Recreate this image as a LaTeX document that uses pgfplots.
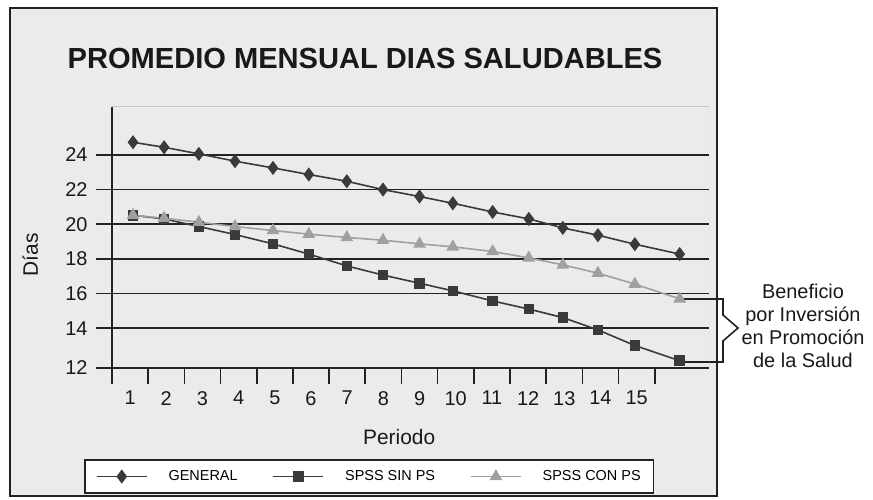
\documentclass[border=0pt]{standalone}
\usepackage{pgfplots}
\pgfplotsset{compat=1.18}
\usepackage{fontspec}
\setmainfont{Liberation Sans}
\definecolor{bgc}{HTML}{EBEBEB}
\definecolor{frm}{HTML}{222222}
\definecolor{dk}{HTML}{3A3A3A}
\definecolor{lt}{HTML}{A0A0A0}
\begin{document}
\begin{tikzpicture}[x=1bp,y=1bp]
\useasboundingbox (0,0) rectangle (873,500);
\fill[white] (0,0) rectangle (873,500);
\draw[line width=2bp, draw=frm, fill=bgc] (10,4) rectangle (717,492);
\node[font=\bfseries\fontsize{29.2}{33}\selectfont, text=black!90] at (365,442) {PROMEDIO MENSUAL DIAS SALUDABLES};
\draw[frm, line width=1.6bp] (684,201) -- (723,201) -- (723,185) -- (738,172) -- (723,159) -- (723,138) -- (684,138);
\node[align=center, font=\fontsize{20}{23}\selectfont, text=black!90] at (803,174) {Beneficio\\por Inversión\\en Promoción\\de la Salud};
\begin{axis}[
  at={(112bp,132.3bp)}, anchor=south west,
  scale only axis, width=597bp, height=261bp,
  xmin=0.5, xmax=17, ymin=11.73, ymax=26.78,
  axis lines=left, axis line style={-, draw=frm, line width=1.7bp},
  tick align=outside, major tick length=16bp,
  tick style={draw=frm, line width=1.7bp},
  xtick={0.5,1.5,...,15.5}, xticklabels={},
  extra x ticks={1,2,...,15},
  extra x tick labels={1,2,3,4,5,6,7,8,9,10,11,12,13,14,15},
  extra x tick style={major tick length=0pt, tick style={draw=none}, tick label style={yshift=-20bp}},
  ytick={11.73,14,16,18,20,22,24}, yticklabels={12,14,16,18,20,22,24},
  yticklabel style={xshift=-5bp},
  ymajorgrids, grid style={draw=frm, line width=1.7bp},
  ticklabel style={font=\fontsize{20}{24}\selectfont, text=black!90},
  /pgf/number format/assume math mode=true,
  xlabel={Periodo}, ylabel={Días},
  label style={font=\fontsize{21}{24}\selectfont, text=black!90},
  xlabel style={at={(axis description cs:0.481,-0.266)}, anchor=center},
  ylabel style={at={(axis description cs:-0.137,0.432)}, anchor=center},
  legend columns=3,
  legend style={at={(axis description cs:0.431,-0.417)}, anchor=center,
    draw=frm, line width=1.6bp, fill=white,
    font=\fontsize{14.5}{17}\selectfont, inner xsep=11bp, inner ysep=8.5bp,
    /tikz/every odd column/.append style={column sep=19bp},
    /tikz/every even column/.append style={column sep=33bp}},
  legend image code/.code={\draw[mark repeat=2,mark phase=2,#1] plot coordinates {(0bp,0bp) (25bp,0bp) (50bp,0bp)};},
]
\draw[color=black!22, line width=1bp] (rel axis cs:0,1) -- (rel axis cs:1,1) -- (rel axis cs:1,0);
\addplot[color=dk, line width=1.6bp, mark=diamond*, mark size=5.8bp, mark options={solid, fill=dk}] coordinates {
(1.08,24.73)(1.94,24.44)(2.9,24.06)(3.9,23.64)(4.95,23.25)(5.94,22.87)(6.99,22.48)(7.99,22.00)
(9.0,21.60)(9.92,21.21)(11.02,20.71)(12.02,20.31)(12.96,19.79)(13.93,19.37)(14.95,18.85)(16.19,18.28)};
\addlegendentry{GENERAL}
\addplot[color=dk, line width=1.6bp, mark=square*, mark size=4.5bp, mark options={solid, fill=dk}] coordinates {
(1.08,20.52)(1.94,20.31)(2.9,19.87)(3.9,19.41)(4.95,18.87)(5.94,18.28)(6.99,17.60)(7.99,17.07)
(9.0,16.60)(9.92,16.16)(11.02,15.58)(12.02,15.11)(12.96,14.62)(13.93,13.91)(14.95,13.01)(16.19,12.13)};
\addlegendentry{SPSS SIN PS}
\addplot[color=lt, line width=1.6bp, mark=triangle*, mark size=5.8bp, mark options={solid, fill=lt}] coordinates {
(1.08,20.52)(1.94,20.35)(2.9,20.12)(3.9,19.87)(4.95,19.64)(5.94,19.43)(6.99,19.24)(7.99,19.08)
(9.0,18.87)(9.92,18.70)(11.02,18.43)(12.02,18.06)(12.96,17.66)(13.93,17.18)(14.95,16.55)(16.19,15.70)};
\addlegendentry{SPSS CON PS}
\end{axis}
\end{tikzpicture}
\end{document}
